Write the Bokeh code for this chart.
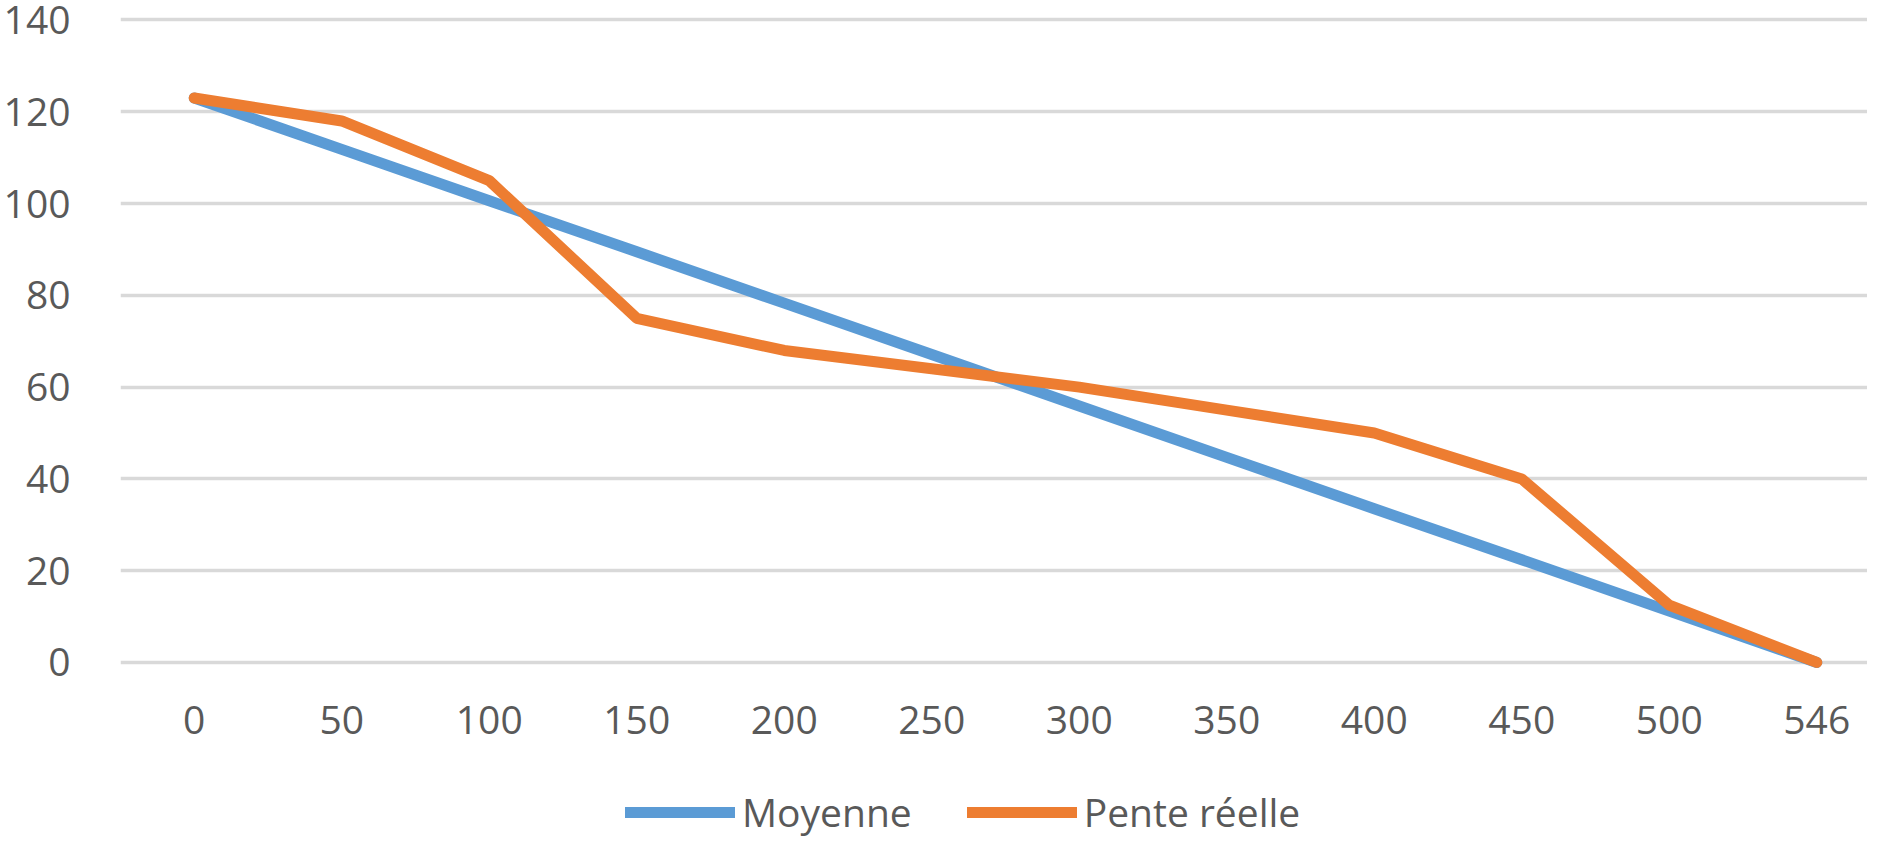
from bokeh.plotting import figure
from bokeh.models import Range1d, FixedTicker, Legend, LegendItem, ColumnDataSource
from bokeh.core.properties import value
from bokeh.embed import file_html
from bokeh.resources import INLINE

categories = ["0", "50", "100", "150", "200", "250", "300", "350", "400", "450", "500", "546"]
moyenne = [123, 111.8, 100.6, 89.5, 78.3, 67.1, 55.9, 44.7, 33.5, 22.4, 11.2, 0]
pente_reelle = [123, 118, 105, 75, 68, 64, 60, 55, 50, 40, 12.5, 0]
y_ticks = [0, 20, 40, 60, 80, 100, 120, 140]

FONT = "Open Sans"
TXT = "#595959"

xpos = list(range(len(categories)))
src = ColumnDataSource(dict(x=xpos, lab=categories, m=moyenne, r=pente_reelle,
                            zero=[0] * len(categories)))

p = figure(frame_width=1747, frame_height=824,
           x_range=Range1d(-0.5, 11.344), y_range=Range1d(-38.57, 140.98),
           output_backend="svg", toolbar_location=None,
           min_border_left=118, min_border_right=0, min_border_top=15, min_border_bottom=0)
p.outline_line_color = None
p.background_fill_color = "white"
p.border_fill_color = "white"

p.xgrid.grid_line_color = None
p.ygrid.grid_line_color = "#d9d9d9"
p.ygrid.grid_line_width = 3.5
p.yaxis.ticker = FixedTicker(ticks=y_ticks)
p.xaxis.visible = False

ax = p.yaxis[0]
ax.axis_line_color = None
ax.major_tick_line_color = None
ax.minor_tick_line_color = None
ax.major_label_text_font = FONT
ax.major_label_text_font_size = "39px"
ax.major_label_text_color = TXT
ax.major_label_standoff = 44

# category labels under the zero line
p.text(x="x", y="zero", text="lab", source=src, y_offset=58,
       text_align="center", text_baseline="middle",
       text_font=value(FONT), text_font_size="39px", text_color=TXT)

l1 = p.line("x", "m", source=src, line_color="#5b9bd5", line_width=11, line_cap="round", line_join="round")
l2 = p.line("x", "r", source=src, line_color="#ed7d31", line_width=11, line_cap="round", line_join="round")

legend = Legend(items=[LegendItem(label="Moyenne", renderers=[l1]),
                       LegendItem(label="Pente réelle", renderers=[l2])],
                orientation="horizontal", location=(505, 1),
                label_text_font=FONT, label_text_font_size="39px", label_text_color=TXT,
                glyph_width=110, glyph_height=40, label_standoff=7, spacing=55,
                border_line_color=None, background_fill_alpha=0, margin=0, padding=0)
p.add_layout(legend)

open("out.html", "w").write(file_html(p, INLINE))
